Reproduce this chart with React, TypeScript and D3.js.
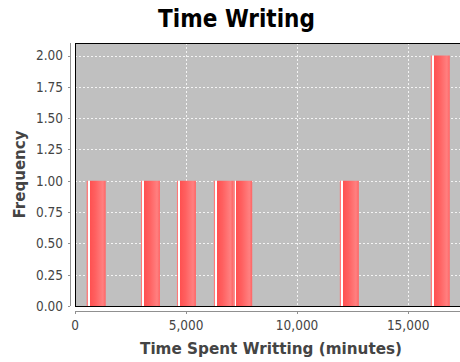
import React from "react";
import * as d3 from "d3";

const binStarts = [527, 2970, 4590, 6255, 7124, 11925, 16020];
const binEnds = [1382, 3825, 5445, 7124, 7979, 12780, 16875];
const frequencies = [1, 1, 1, 1, 1, 1, 2];
const xTicks = [0, 5000, 10000, 15000];
const yTicks = [0, 0.25, 0.5, 0.75, 1, 1.25, 1.5, 1.75, 2];
const titleText = "Time Writing";
const xLabel = "Time Spent Writting (minutes)";
const yLabel = "Frequency";

const W = 460;
const H = 362;
const plot = { left: 75, top: 43, right: 467, bottom: 306 };
const FONT = "Tahoma, 'DejaVu Sans Condensed', 'DejaVu Sans', sans-serif";
const LABEL_FONT = "'DejaVu Sans', sans-serif";

export default function App() {
  const x = d3.scaleLinear().domain([0, 17650]).range([plot.left, plot.right]);
  const y = d3.scaleLinear().domain([0, 2.1]).range([plot.bottom, plot.top]);
  const fmt = d3.format(",");
  const bins = binStarts.map((s, i) => ({ s, e: binEnds[i], f: frequencies[i] }));
  const axisY = plot.bottom + 5;
  const axisX = plot.left - 5;
  return (
    <svg
      width={W}
      height={H}
      style={{ position: "absolute", left: 0, top: 0, background: "#fff" }}
    >
      <defs>
        <linearGradient id="barGrad" x1="0" x2="1" y1="0" y2="0">
          <stop offset="0" stopColor="#ff6a6a" />
          <stop offset="0.07" stopColor="#ff8c8c" />
          <stop offset="0.08" stopColor="#ffffff" />
          <stop offset="0.15" stopColor="#ffffff" />
          <stop offset="0.16" stopColor="#ff5050" />
          <stop offset="0.45" stopColor="#ff6060" />
          <stop offset="0.85" stopColor="#ff8080" />
          <stop offset="1" stopColor="#ff6464" />
        </linearGradient>
        <clipPath id="plotClip">
          <rect x={plot.left} y={plot.top} width={plot.right - plot.left} height={plot.bottom - plot.top} />
        </clipPath>
      </defs>
      <text
        x={236.5}
        y={27}
        textAnchor="middle"
        fontFamily={FONT}
        fontWeight="bold"
        fontSize={24}
        fill="#000"
      >
        {titleText}
      </text>
      <rect
        x={plot.left}
        y={plot.top}
        width={plot.right - plot.left}
        height={plot.bottom - plot.top}
        fill="#c0c0c0"
      />
      <g clipPath="url(#plotClip)">
        {yTicks.map((t) => (
          <line
            key={"gy" + t}
            x1={plot.left}
            x2={plot.right}
            y1={Math.round(y(t)) + 0.5}
            y2={Math.round(y(t)) + 0.5}
            stroke="#f4f4f4"
            strokeDasharray="2,2"
          />
        ))}
        {xTicks.map((t) => (
          <line
            key={"gx" + t}
            x1={Math.round(x(t)) + 0.5}
            x2={Math.round(x(t)) + 0.5}
            y1={plot.top}
            y2={plot.bottom}
            stroke="#f4f4f4"
            strokeDasharray="2,2"
          />
        ))}
        {bins.map((b, i) => (
          <rect
            key={"b" + i}
            x={x(b.s)}
            y={y(b.f)}
            width={x(b.e) - x(b.s)}
            height={y(0) - y(b.f)}
            fill="url(#barGrad)"
          />
        ))}
      </g>
      <rect
        x={plot.left + 0.5}
        y={plot.top + 0.5}
        width={plot.right - plot.left}
        height={plot.bottom - plot.top}
        fill="none"
        stroke="#000"
        strokeWidth={1}
      />
      {/* y axis */}
      <line x1={axisX + 0.5} x2={axisX + 0.5} y1={plot.top} y2={plot.bottom} stroke="#909090" />
      {yTicks.map((t) => (
        <g key={"ty" + t}>
          <line
            x1={axisX - 2}
            x2={axisX}
            y1={Math.round(y(t)) + 0.5}
            y2={Math.round(y(t)) + 0.5}
            stroke="#909090"
          />
          <text
            x={63}
            y={y(t)}
            dy="0.36em"
            textAnchor="end"
            fontFamily={FONT}
            fontSize={13.5}
            fill="#444"
          >
            {t.toFixed(2)}
          </text>
        </g>
      ))}
      {/* x axis */}
      <line x1={plot.left} x2={W} y1={axisY + 0.5} y2={axisY + 0.5} stroke="#909090" />
      {xTicks.map((t) => (
        <g key={"tx" + t}>
          <line
            x1={Math.round(x(t)) + 0.5}
            x2={Math.round(x(t)) + 0.5}
            y1={axisY}
            y2={axisY + 3}
            stroke="#909090"
          />
          <text
            x={x(t)}
            y={330}
            textAnchor="middle"
            fontFamily={FONT}
            fontSize={13.5}
            fill="#444"
          >
            {fmt(t)}
          </text>
        </g>
      ))}
      <text
        x={271}
        y={353.5}
        textAnchor="middle"
        fontFamily={LABEL_FONT}
        fontWeight="bold"
        fontSize={15.5}
        fill="#444"
        textLength={262}
        lengthAdjust="spacingAndGlyphs"
      >
        {xLabel}
      </text>
      <text
        transform={`translate(24.5,174.5) rotate(-90)`}
        textAnchor="middle"
        fontFamily={LABEL_FONT}
        fontWeight="bold"
        fontSize={15.5}
        fill="#444"
        textLength={88}
        lengthAdjust="spacingAndGlyphs"
      >
        {yLabel}
      </text>
    </svg>
  );
}
